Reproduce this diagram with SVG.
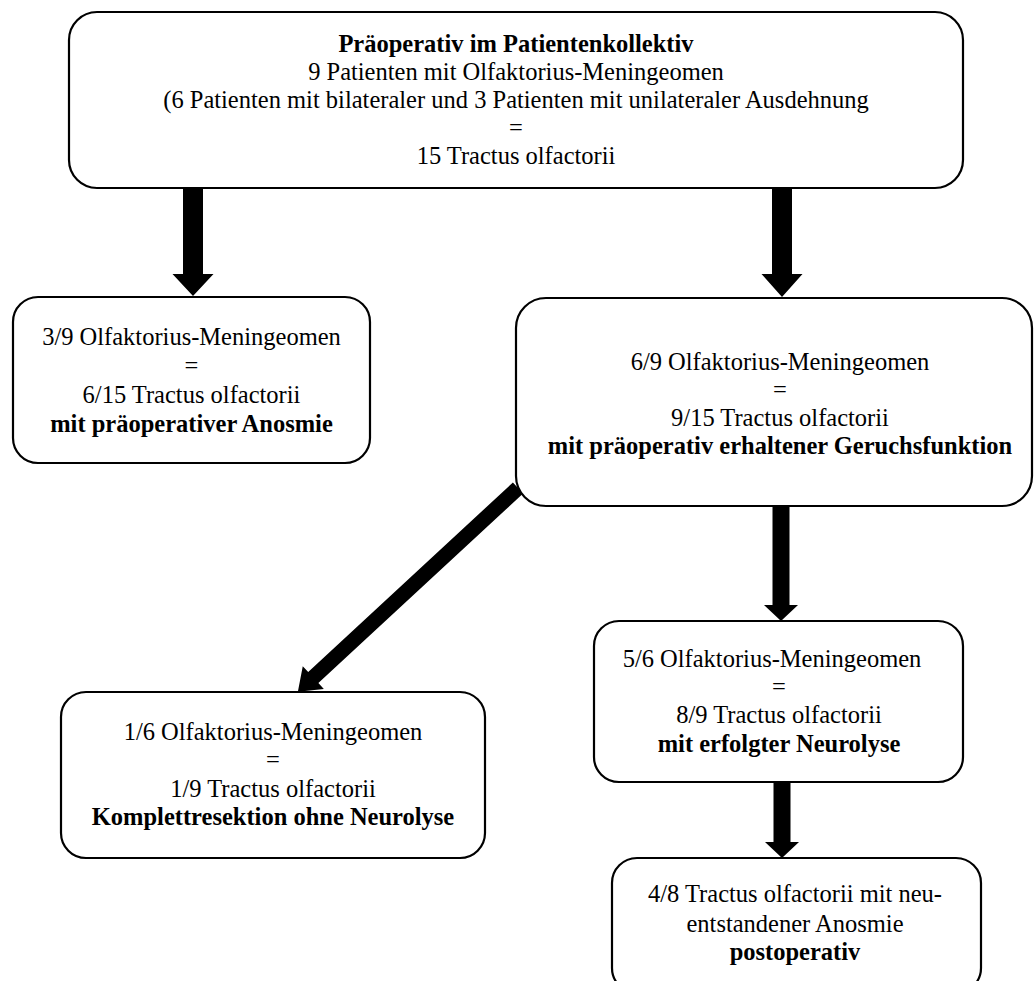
<svg xmlns="http://www.w3.org/2000/svg" width="1035" height="981" viewBox="0 0 1035 981">
<style>
.box{fill:#fff;stroke:#000;stroke-width:2.2}
.t{font-family:"Liberation Serif","Times New Roman",serif;font-size:24.5px;fill:#000;text-anchor:middle}
.b{font-weight:bold}
.arr{fill:#000;stroke:none}
</style>
<rect width="1035" height="981" fill="#fff"/>
<g id="connectors">
<polygon class="arr" points="183,188 203,188 203,274 213.5,274 193,296 172.5,274 183,274"/>
<polygon class="arr" points="772,188 792,188 792,274 802.5,274 782,297 761.5,274 772,274"/>
<polygon class="arr" points="772.5,506 789.5,506 789.5,605 798,605 781,621 764,605 772.5,605"/>
<polygon class="arr" points="773.5,782 790.5,782 790.5,842 799,842 782,858 765,842 773.5,842"/>
<g transform="translate(518,488) rotate(137.2)">
<polygon class="arr" points="0,-7.5 279,-7.5 279,-15.5 300,0 279,15.5 279,7.5 0,7.5"/>
</g>
</g>
<g id="node-top">
<rect class="box" x="69" y="12" width="894" height="176" rx="28"/>
<text class="t b" x="516" y="52">Präoperativ im Patientenkollektiv</text>
<text class="t" x="516" y="80">9 Patienten mit Olfaktorius-Meningeomen</text>
<text class="t" x="516" y="108">(6 Patienten mit bilateraler und 3 Patienten mit unilateraler Ausdehnung</text>
<text class="t" x="516" y="136">=</text>
<text class="t" x="516" y="164">15 Tractus olfactorii</text>
</g>
<g id="node-anosmie">
<rect class="box" x="13" y="297" width="357" height="166" rx="25"/>
<text class="t" x="191.5" y="345">3/9 Olfaktorius-Meningeomen</text>
<text class="t" x="191.5" y="374">=</text>
<text class="t" x="191.5" y="403">6/15 Tractus olfactorii</text>
<text class="t b" x="191.5" y="432">mit präoperativer Anosmie</text>
</g>
<g id="node-erhalten">
<rect class="box" x="516" y="298" width="516" height="208" rx="30"/>
<text class="t" x="780" y="370">6/9 Olfaktorius-Meningeomen</text>
<text class="t" x="780" y="398">=</text>
<text class="t" x="780" y="426">9/15 Tractus olfactorii</text>
<text class="t b" x="780" y="454">mit präoperativ erhaltener Geruchsfunktion</text>
</g>
<g id="node-komplett">
<rect class="box" x="61" y="692" width="424" height="166" rx="25"/>
<text class="t" x="273" y="740">1/6 Olfaktorius-Meningeomen</text>
<text class="t" x="273" y="768">=</text>
<text class="t" x="273" y="797">1/9 Tractus olfactorii</text>
<text class="t b" x="273" y="825">Komplettresektion ohne Neurolyse</text>
</g>
<g id="node-neurolyse">
<rect class="box" x="594" y="621" width="369" height="161" rx="25"/>
<text class="t" x="772" y="667">5/6 Olfaktorius-Meningeomen</text>
<text class="t" x="779" y="695">=</text>
<text class="t" x="779" y="723">8/9 Tractus olfactorii</text>
<text class="t b" x="779" y="752">mit erfolgter Neurolyse</text>
</g>
<g id="node-postoperativ">
<rect class="box" x="612" y="858" width="369" height="135" rx="25"/>
<text class="t" x="795" y="902">4/8 Tractus olfactorii mit neu-</text>
<text class="t" x="795" y="932">entstandener Anosmie</text>
<text class="t b" x="795" y="960">postoperativ</text>
</g>
</svg>
